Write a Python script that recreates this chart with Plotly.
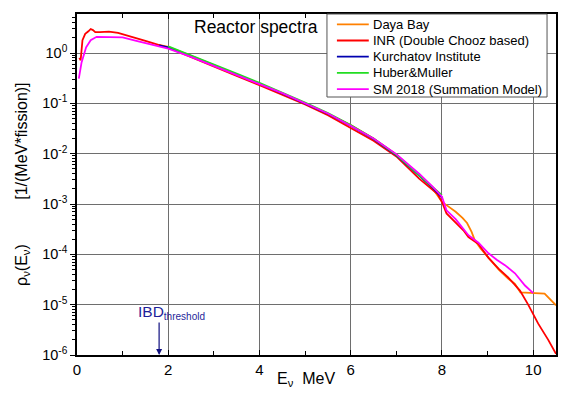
import plotly.graph_objects as go

# Reactor antineutrino spectra, rho(E) in 1/(MeV*fission)

# Daya Bay
daya_e = [1.8, 2.0, 2.5, 3.0, 3.5, 4.0, 4.5, 5.0, 5.5, 6.0, 6.5, 7.0, 7.5, 7.8, 8.0,
          8.1, 8.3, 8.45, 8.55, 8.65, 8.72, 8.85, 9.0, 9.25, 9.45, 9.6, 9.72, 10.0,
          10.25, 10.5]
daya_v = [1.45, 1.32, 0.88, 0.58, 0.38, 0.245, 0.157, 0.10, 0.062, 0.037, 0.020,
          0.0095, 0.0038, 0.0020, 1.1e-3, 9.5e-4, 7.0e-4, 5.3e-4, 4.2e-4, 2.8e-4,
          1.9e-4, 1.3e-4, 9.0e-5, 4.9e-5, 3.3e-5, 2.6e-5, 1.75e-5, 1.7e-5, 1.65e-5,
          9.7e-6]

# INR (Double Chooz based)
inr_e = [0.05, 0.08, 0.12, 0.18, 0.25, 0.3, 0.35, 0.4, 0.5, 0.7, 0.9, 1.2, 1.5,
         2.0, 2.5, 3.0, 3.5, 4.0, 4.5, 5.0, 5.5, 6.0, 6.5, 7.0, 7.5, 7.9, 8.0, 8.1,
         8.3, 8.47, 8.58, 8.8, 9.02, 9.24, 9.45, 9.71, 9.89, 10.11, 10.33, 10.5]
inr_v = [0.8, 0.72, 1.8, 2.4, 2.7, 3.0, 2.85, 2.6, 2.6, 2.65, 2.5, 2.1, 1.75,
         1.27, 0.82, 0.54, 0.35, 0.23, 0.15, 0.095, 0.058, 0.032, 0.018, 0.0088,
         0.0032, 0.0016, 1.1e-3, 6.5e-4, 4.3e-4, 3.0e-4, 2.2e-4, 1.6e-4, 8.5e-5,
         5.2e-5, 3.5e-5, 1.9e-5, 1.0e-5, 4.2e-6, 2.0e-6, 1.05e-6]

# Kurchatov Institute
kurch_e = [1.8, 2.0, 2.5, 3.0, 3.5, 4.0, 4.5, 5.0, 5.5, 6.0, 6.5, 7.0, 7.5, 7.8, 8.0]
kurch_v = [1.42, 1.30, 0.87, 0.575, 0.375, 0.245, 0.157, 0.10, 0.062, 0.036, 0.0195,
           0.0093, 0.0036, 0.0021, 1.35e-3]

# Huber & Mueller
huber_e = [2.0, 2.5, 3.0, 3.5, 4.0, 4.5, 5.0, 5.5, 6.0, 6.5, 7.0, 7.5, 8.0]
huber_v = [1.35, 0.90, 0.60, 0.39, 0.255, 0.163, 0.103, 0.064, 0.037, 0.020, 0.0095,
           0.0037, 1.5e-3]

# SM 2018 (Summation Model)
sm_e = [0.04, 0.1, 0.2, 0.3, 0.43, 0.7, 1.0, 1.3, 1.6, 2.0, 2.5, 3.0, 3.5, 4.0, 4.5,
        5.0, 5.5, 6.0, 6.5, 7.0, 7.5, 7.8, 8.0, 8.1, 8.3, 8.58, 8.8, 9.02, 9.2, 9.38,
        9.6, 9.82, 10.0]
sm_v = [0.31, 0.65, 1.3, 1.8, 2.1, 2.1, 2.05, 1.75, 1.5, 1.22, 0.84, 0.56, 0.37, 0.24,
        0.16, 0.10, 0.063, 0.036, 0.020, 0.0098, 0.0040, 0.0022, 1.4e-3, 7.5e-4,
        5.0e-4, 2.4e-4, 1.7e-4, 1.05e-4, 7.8e-5, 6.1e-5, 4.2e-5, 2.4e-5, 1.7e-5]

y_tickvals = [1e-6, 1e-5, 1e-4, 1e-3, 1e-2, 1e-1, 1]
y_ticktext = ["10<sup>-6</sup>", "10<sup>-5</sup>", "10<sup>-4</sup>", "10<sup>-3</sup>",
              "10<sup>-2</sup>", "10<sup>-1</sup>", "10<sup>0</sup>"]

FONT = "Arial, 'Liberation Sans', sans-serif"

series = [
    ("Daya Bay", daya_e, daya_v, "#ff8000"),
    ("INR (Double Chooz based)", inr_e, inr_v, "#ff0000"),
    ("Kurchatov Institute", kurch_e, kurch_v, "#0000b0"),
    ("Huber&Muller", huber_e, huber_v, "#22dd22"),
    ("SM 2018 (Summation Model)", sm_e, sm_v, "#ff00ff"),
]

W, H = 568, 395
M = dict(l=77, r=10, t=14, b=40)
plot_w = W - M["l"] - M["r"]
plot_h = H - M["t"] - M["b"]


def px_to_paper(px, py):
    """Convert page pixel coordinates to paper coordinates."""
    return (px - M["l"]) / plot_w, (H - M["b"] - py) / plot_h


fig = go.Figure()
for name, e, v, color in series:
    fig.add_trace(go.Scatter(x=e, y=v, mode="lines", name=name,
                             line=dict(color=color, width=1.8)))

fig.update_layout(
    width=W, height=H, margin=M,
    paper_bgcolor="white", plot_bgcolor="white",
    font=dict(family=FONT, color="black"),
    showlegend=False,
)

fig.update_xaxes(
    range=[0, 10.5], tick0=0, dtick=2,
    ticks="inside", ticklen=5, tickcolor="black",
    minor=dict(dtick=1, ticks="inside", ticklen=4, tickcolor="black", showgrid=False),
    showline=True, linecolor="black", linewidth=1.6, mirror="ticks",
    showgrid=True, gridcolor="#6e6e6e", gridwidth=1,
    zeroline=False,
    tickfont=dict(size=15, family=FONT),
)

fig.update_yaxes(
    type="log", range=[-6, 0.775],
    tickmode="array", tickvals=y_tickvals, ticktext=y_ticktext,
    ticks="outside", ticklen=5, tickcolor="black",
    minor=dict(dtick="D1", ticks="outside", ticklen=3, tickcolor="black", showgrid=False),
    showline=True, linecolor="black", linewidth=1.6, mirror=True,
    showgrid=True, gridcolor="#6e6e6e", gridwidth=1,
    zeroline=False,
    tickfont=dict(size=14.5, family=FONT),
)

# Legend box drawn in page space
bx0, by1 = px_to_paper(328, 14)
bx1, by0 = px_to_paper(549, 97)
fig.add_shape(type="rect", xref="paper", yref="paper", x0=bx0, x1=bx1, y0=by0, y1=by1,
              line=dict(color="#555", width=1), fillcolor="white", layer="above")
for i, (name, _, _, color) in enumerate(series):
    row_y = 24.3 + 16.2 * i
    lx0, ly = px_to_paper(338, row_y)
    lx1, _ = px_to_paper(370, row_y)
    fig.add_shape(type="line", xref="paper", yref="paper", x0=lx0, x1=lx1, y0=ly, y1=ly,
                  line=dict(color=color, width=1.8), layer="above")
    tx, _ = px_to_paper(372, row_y)
    fig.add_annotation(xref="paper", yref="paper", x=tx, y=ly, text=name,
                       showarrow=False, xanchor="left", yanchor="middle",
                       font=dict(size=13, family=FONT))

nb = "\u00a0"
fig.add_annotation(
    xref="paper", yref="paper", x=-0.114, y=0.5,
    text="\u03c1<sub>\u03bd</sub>(E<sub>\u03bd</sub>)" + nb * 10 + "[1/(MeV*fission)]",
    textangle=-90, showarrow=False, xanchor="center", yanchor="middle",
    font=dict(size=16, family=FONT),
)
fig.add_annotation(
    xref="x", yref="paper", x=5.02, y=-0.073,
    text="E<sub>\u03bd</sub>" + nb * 2 + "MeV", showarrow=False,
    xanchor="center", yanchor="middle", font=dict(size=16, family=FONT),
)
fig.add_annotation(
    xref="x", yref="paper", x=3.93, y=0.962,
    text="Reactor spectra", showarrow=False,
    xanchor="center", yanchor="middle", font=dict(size=17.5, family=FONT),
)

# IBD threshold marker
ibd_threshold = 1.8
fig.add_annotation(
    x=ibd_threshold, y=-6, xref="x", yref="y", text="",
    showarrow=True, ax=0, ay=-34, arrowhead=2, arrowsize=1, arrowwidth=1.2,
    arrowcolor="#101080",
)
fig.add_annotation(
    x=1.3, y=-5.15, xref="x", yref="y",
    text="IBD<sub><span style='font-size:10px'>threshold</span></sub>", showarrow=False,
    xanchor="left", yanchor="middle",
    font=dict(size=15.5, family=FONT, color="#1f1f9a"),
)

fig.write_html("out.html")
